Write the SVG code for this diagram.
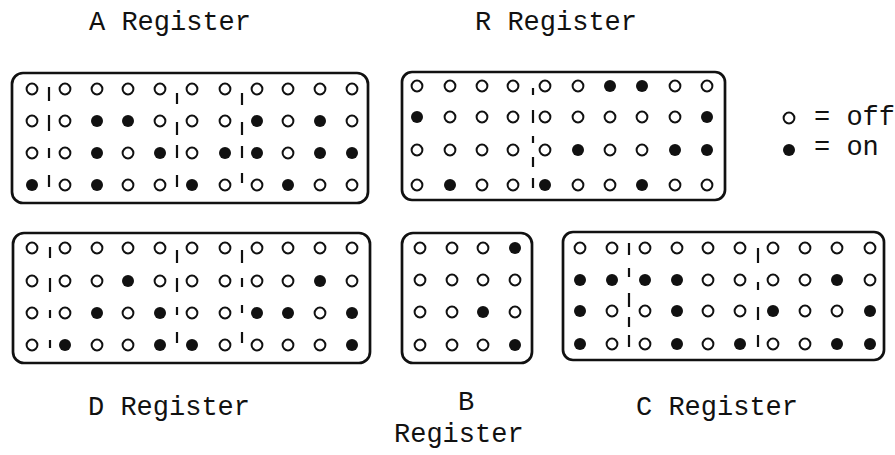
<svg xmlns="http://www.w3.org/2000/svg" xmlns:xlink="http://www.w3.org/1999/xlink" width="895" height="455" viewBox="0 0 895 455">
<style>
.box{fill:none;stroke:#111;stroke-width:2.7}
.tick{fill:none;stroke:#111;stroke-width:2.2}
.lbl{font-family:"Liberation Mono","DejaVu Sans Mono",monospace;font-size:27px;fill:#111}
</style>
<defs>
<circle id="o" r="5.4" fill="#fff" stroke="#111" stroke-width="2"/>
<circle id="b" r="6" fill="#111"/>
</defs>
<rect width="895" height="455" fill="#fff"/>

<g id="reg-a">
<rect class="box" x="12" y="73" width="356" height="130" rx="11"/>
<use href="#o" x="32" y="89"/><use href="#o" x="65" y="89"/><use href="#o" x="97" y="89"/><use href="#o" x="128" y="89"/><use href="#o" x="160" y="89"/><use href="#o" x="192" y="89"/><use href="#o" x="225" y="89"/><use href="#o" x="257" y="89"/><use href="#o" x="288" y="89"/><use href="#o" x="320" y="89"/><use href="#o" x="352" y="89"/>
<use href="#o" x="32" y="121"/><use href="#o" x="65" y="121"/><use href="#b" x="97" y="121"/><use href="#b" x="128" y="121"/><use href="#o" x="160" y="121"/><use href="#o" x="192" y="121"/><use href="#o" x="225" y="121"/><use href="#b" x="257" y="121"/><use href="#o" x="288" y="121"/><use href="#b" x="320" y="121"/><use href="#o" x="352" y="121"/>
<use href="#o" x="32" y="153"/><use href="#o" x="65" y="153"/><use href="#b" x="97" y="153"/><use href="#o" x="128" y="153"/><use href="#b" x="160" y="153"/><use href="#o" x="192" y="153"/><use href="#b" x="225" y="153"/><use href="#b" x="257" y="153"/><use href="#o" x="288" y="153"/><use href="#b" x="320" y="153"/><use href="#b" x="352" y="153"/>
<use href="#b" x="32" y="185"/><use href="#o" x="65" y="185"/><use href="#b" x="97" y="185"/><use href="#o" x="128" y="185"/><use href="#o" x="160" y="185"/><use href="#b" x="192" y="185"/><use href="#o" x="225" y="185"/><use href="#o" x="257" y="185"/><use href="#b" x="288" y="185"/><use href="#o" x="320" y="185"/><use href="#o" x="352" y="185"/>
<path class="tick" d="M49 87v14M177 93v11M242 93v12M49 115v16M177 122v13M242 122v13M49 148v10M177 145v13M242 146v12M49 175v12M177 175v12M242 173v10"/>
</g>

<g id="reg-r">
<rect class="box" x="402" y="72" width="323" height="128" rx="10"/>
<use href="#o" x="417" y="86"/><use href="#o" x="450" y="86"/><use href="#o" x="482" y="86"/><use href="#o" x="513" y="86"/><use href="#o" x="545" y="86"/><use href="#o" x="578" y="86"/><use href="#b" x="610" y="86"/><use href="#b" x="642" y="86"/><use href="#o" x="675" y="86"/><use href="#o" x="707" y="86"/>
<use href="#b" x="417" y="117"/><use href="#o" x="450" y="117"/><use href="#o" x="482" y="117"/><use href="#o" x="513" y="117"/><use href="#o" x="545" y="117"/><use href="#o" x="578" y="117"/><use href="#o" x="610" y="117"/><use href="#o" x="642" y="117"/><use href="#o" x="675" y="117"/><use href="#b" x="707" y="117"/>
<use href="#o" x="417" y="150"/><use href="#o" x="450" y="150"/><use href="#o" x="482" y="150"/><use href="#o" x="513" y="150"/><use href="#o" x="545" y="150"/><use href="#b" x="578" y="150"/><use href="#o" x="610" y="150"/><use href="#o" x="642" y="150"/><use href="#b" x="675" y="150"/><use href="#b" x="707" y="150"/>
<use href="#o" x="417" y="185"/><use href="#b" x="450" y="185"/><use href="#o" x="482" y="185"/><use href="#o" x="513" y="185"/><use href="#b" x="545" y="185"/><use href="#o" x="578" y="185"/><use href="#o" x="610" y="185"/><use href="#b" x="642" y="185"/><use href="#o" x="675" y="185"/><use href="#o" x="707" y="185"/>
<path class="tick" d="M533 88v7M533 110v13M533 136v7M533 157v10M533 178v10"/>
</g>

<g id="legend">
<use href="#o" x="789" y="118"/>
<use href="#b" x="789" y="150"/>
<text class="lbl" x="814" y="125">= off</text>
<text class="lbl" x="814" y="155">= on</text>
</g>

<g id="reg-d">
<rect class="box" x="13" y="233" width="357" height="130" rx="11"/>
<use href="#o" x="32" y="248"/><use href="#o" x="65" y="248"/><use href="#o" x="97" y="248"/><use href="#o" x="128" y="248"/><use href="#o" x="160" y="248"/><use href="#o" x="192" y="248"/><use href="#o" x="225" y="248"/><use href="#o" x="257" y="248"/><use href="#o" x="288" y="248"/><use href="#o" x="320" y="248"/><use href="#o" x="352" y="248"/>
<use href="#o" x="32" y="281"/><use href="#o" x="65" y="281"/><use href="#o" x="97" y="281"/><use href="#b" x="128" y="281"/><use href="#o" x="160" y="281"/><use href="#o" x="192" y="281"/><use href="#o" x="225" y="281"/><use href="#o" x="257" y="281"/><use href="#o" x="288" y="281"/><use href="#b" x="320" y="281"/><use href="#o" x="352" y="281"/>
<use href="#o" x="32" y="313"/><use href="#o" x="65" y="313"/><use href="#b" x="97" y="313"/><use href="#o" x="128" y="313"/><use href="#b" x="160" y="313"/><use href="#o" x="192" y="313"/><use href="#o" x="225" y="313"/><use href="#b" x="257" y="313"/><use href="#b" x="288" y="313"/><use href="#o" x="320" y="313"/><use href="#b" x="352" y="313"/>
<use href="#o" x="32" y="345"/><use href="#b" x="65" y="345"/><use href="#o" x="97" y="345"/><use href="#o" x="128" y="345"/><use href="#b" x="160" y="345"/><use href="#b" x="192" y="345"/><use href="#o" x="225" y="345"/><use href="#o" x="257" y="345"/><use href="#o" x="288" y="345"/><use href="#o" x="320" y="345"/><use href="#b" x="352" y="345"/>
<path class="tick" d="M50 247v11M177 250v13M242 250v13M50 278v14M177 278v14M242 278v9M50 310v8M177 307v8M242 305v8M50 340v8M177 332v11M242 332v11"/>
</g>

<g id="reg-b">
<rect class="box" x="402" y="233" width="130" height="130" rx="11"/>
<use href="#o" x="420" y="248"/><use href="#o" x="452" y="248"/><use href="#o" x="483" y="248"/><use href="#b" x="515" y="248"/>
<use href="#o" x="420" y="280"/><use href="#o" x="452" y="280"/><use href="#o" x="483" y="280"/><use href="#o" x="515" y="280"/>
<use href="#o" x="420" y="312"/><use href="#o" x="452" y="312"/><use href="#b" x="483" y="312"/><use href="#o" x="515" y="312"/>
<use href="#o" x="420" y="345"/><use href="#o" x="452" y="345"/><use href="#o" x="483" y="345"/><use href="#b" x="515" y="345"/>
</g>

<g id="reg-c">
<rect class="box" x="563" y="232" width="321" height="128" rx="10"/>
<use href="#o" x="580" y="248"/><use href="#o" x="612" y="248"/><use href="#o" x="645" y="248"/><use href="#o" x="677" y="248"/><use href="#o" x="708" y="248"/><use href="#o" x="740" y="248"/><use href="#o" x="773" y="248"/><use href="#o" x="805" y="248"/><use href="#o" x="837" y="248"/><use href="#o" x="870" y="248"/>
<use href="#b" x="580" y="280"/><use href="#b" x="612" y="280"/><use href="#b" x="645" y="280"/><use href="#b" x="677" y="280"/><use href="#o" x="708" y="280"/><use href="#o" x="740" y="280"/><use href="#o" x="773" y="280"/><use href="#o" x="805" y="280"/><use href="#b" x="837" y="280"/><use href="#o" x="870" y="280"/>
<use href="#b" x="580" y="311"/><use href="#o" x="612" y="311"/><use href="#o" x="645" y="311"/><use href="#b" x="677" y="311"/><use href="#o" x="708" y="311"/><use href="#o" x="740" y="311"/><use href="#b" x="773" y="311"/><use href="#o" x="805" y="311"/><use href="#o" x="837" y="311"/><use href="#b" x="870" y="311"/>
<use href="#b" x="580" y="344"/><use href="#o" x="612" y="344"/><use href="#o" x="645" y="344"/><use href="#b" x="677" y="344"/><use href="#o" x="708" y="344"/><use href="#b" x="740" y="344"/><use href="#o" x="773" y="344"/><use href="#o" x="805" y="344"/><use href="#b" x="837" y="344"/><use href="#b" x="870" y="344"/>
<path class="tick" d="M629 243v12M629 268v9M629 293v14M629 317v10M629 335v12M758 248v15M758 282v8M758 307v13M758 335v12"/>
</g>

<g id="labels">
<text class="lbl" x="89" y="30">A Register</text>
<text class="lbl" x="475" y="30">R Register</text>
<text class="lbl" x="88" y="415">D Register</text>
<text class="lbl" x="458" y="410">B</text>
<text class="lbl" x="394" y="442">Register</text>
<text class="lbl" x="636" y="415">C Register</text>
</g>
</svg>
